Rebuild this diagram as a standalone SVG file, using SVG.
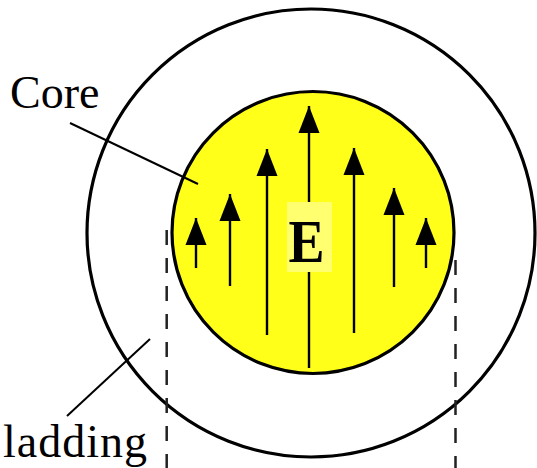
<svg xmlns="http://www.w3.org/2000/svg" width="537" height="468" viewBox="0 0 537 468">
<style>
.ring{fill:none;stroke:#000;stroke-width:3.2}
.core{fill:#ffff1a;stroke:#000;stroke-width:3.2}
.arr{stroke:#000;stroke-width:2.4;fill:none;marker-end:url(#ah)}
.lead{stroke:#000;stroke-width:2;fill:none}
.dash{stroke:#222;stroke-width:2.5;stroke-dasharray:15 13;fill:none}
.lbl{font-family:"Liberation Serif","Times New Roman",serif;font-size:46px;fill:#000}
</style>
<defs>
<marker id="ah" markerUnits="userSpaceOnUse" markerWidth="27" markerHeight="22" viewBox="0 -11 27 22" refX="27" refY="0" orient="auto">
<path d="M0,-10.5 L27,0 L0,10.5 Z" fill="#000"/>
</marker>
</defs>
<g id="cladding"><circle class="ring" cx="311" cy="233" r="224"/></g>
<g id="core"><circle class="core" cx="313" cy="232.5" r="141"/></g>
<g id="connectors">
<line class="arr" x1="196" y1="268" x2="196" y2="218"/>
<line class="arr" x1="230" y1="286" x2="230" y2="194"/>
<line class="arr" x1="267" y1="335" x2="267" y2="149"/>
<line class="arr" x1="309" y1="368" x2="309" y2="106"/>
<line class="arr" x1="354" y1="333" x2="354" y2="148"/>
<line class="arr" x1="394" y1="287" x2="394" y2="188"/>
<line class="arr" x1="426" y1="268" x2="426" y2="218"/>
<line class="lead" x1="70" y1="123" x2="198" y2="184"/>
<line class="lead" x1="67" y1="416" x2="150" y2="339"/>
<line class="dash" x1="166.7" y1="230" x2="166.7" y2="468"/>
<line class="dash" x1="455.5" y1="260" x2="455.5" y2="468"/>
</g>
<g id="field-label">
<rect x="287" y="202" width="45" height="70" fill="#ffff70"/>
<text transform="translate(306.5,262) scale(0.9,1.02)" text-anchor="middle" font-family="'Liberation Serif','Times New Roman',serif" font-weight="bold" font-size="60">E</text>
</g>
<g id="label-core"><text class="lbl" x="10" y="108">Core</text></g>
<g id="label-cladding"><text class="lbl" x="3" y="457" textLength="144" lengthAdjust="spacing">ladding</text></g>
</svg>
